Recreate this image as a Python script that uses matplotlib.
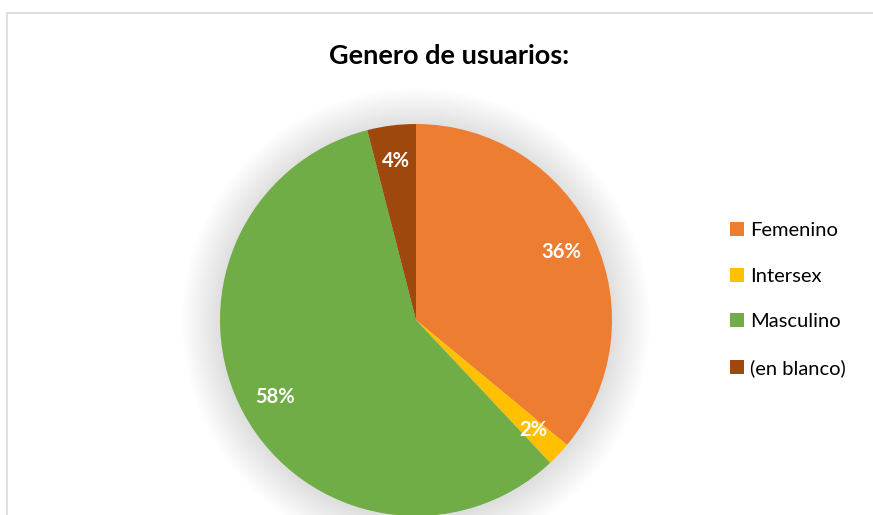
import matplotlib.pyplot as plt
from matplotlib.patches import Rectangle, Circle

# data
categories = ["Femenino", "Intersex", "Masculino", "(en blanco)"]
shares = [36, 2, 58, 4]
colors = ["#ED7D31", "#FFC000", "#70AD47", "#9E480E"]
title = "Genero de usuarios:"

plt.rcParams['font.family'] = ['Lato', 'DejaVu Sans']

W, H = 873, 515
fig = plt.figure(figsize=(W / 100, H / 100), dpi=100)
fig.patch.set_facecolor("white")

# chart frame (cut off on the right and bottom like the screenshot)
fig.patches.append(Rectangle((7 / W, -0.05), 1.0, 1 - 13 / H + 0.05,
                             transform=fig.transFigure, fill=False,
                             edgecolor="#d9d9d9", linewidth=1.2))

# axes in pixel units so the pie sits where it should
ax = fig.add_axes([0, 0, 1, 1])

cx, cy, r = 416, H - 320, 196

# soft shadow glow behind the pie
n = 32
for i in range(n, 0, -1):
    ax.add_patch(Circle((cx, cy - 2), r + i * 1.2, color="black",
                        alpha=0.003, linewidth=0, zorder=0))

wedges, texts, autotexts = ax.pie(
    shares, colors=colors, startangle=90, counterclock=False,
    center=(cx, cy), radius=r, autopct="%1.0f%%", pctdistance=0.82,
    wedgeprops=dict(linewidth=0), frame=True,
    textprops=dict(color="white", fontsize=14.5, fontweight="bold"))
ax.set_xlim(0, W)
ax.set_ylim(0, H)
ax.set_aspect("equal")
ax.axis("off")
for w in wedges:
    w.set_zorder(2)
for t in autotexts:
    t.set_zorder(3)

fig.text(449 / W, 1 - 56 / H, title, ha="center", va="center",
         fontsize=19.5, fontweight="bold", color="black")

leg = fig.legend(wedges, categories, loc="upper left",
                 bbox_to_anchor=(712 / W, 1 - 204 / H), frameon=False,
                 fontsize=14.5, handlelength=0.68, handleheight=0.68,
                 handletextpad=0.3, labelspacing=1.42)

fig.savefig("out.png", dpi=100)
